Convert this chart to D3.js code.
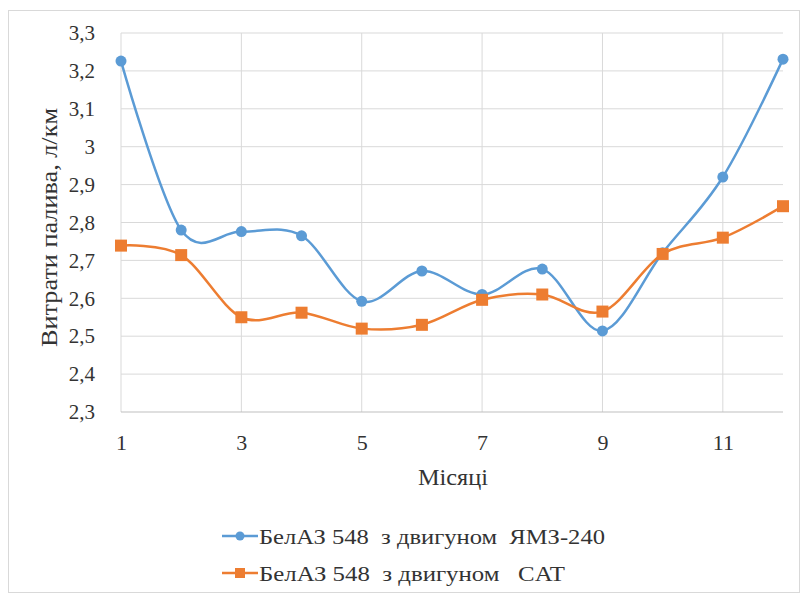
<!DOCTYPE html>
<html><head><meta charset="utf-8">
<script src="https://cdn.jsdelivr.net/npm/d3@7"></script>
<style>body{margin:0;background:#fff}svg{display:block}</style>
</head><body><svg id="c" width="803" height="596" style="font-family:'Liberation Serif','Tinos','DejaVu Serif',serif"></svg>
<script>
const months = [1,2,3,4,5,6,7,8,9,10,11,12];
const yamzValues = [3.226,2.78,2.776,2.765,2.592,2.672,2.61,2.677,2.514,2.72,2.92,3.231];
const catValues = [2.739,2.714,2.55,2.562,2.52,2.53,2.596,2.61,2.565,2.717,2.76,2.843];
const xTicks = [1,3,5,7,9,11];
const yTicks = [2.3,2.4,2.5,2.6,2.7,2.8,2.9,3.0,3.1,3.2,3.3];
const seriesNames = ["БелАЗ 548  з двигуном  ЯМЗ-240","БелАЗ 548  з двигуном   CAT"];
const colors = ["#5B9BD5","#ED7D31"];
const FONT = "'Liberation Serif','Tinos','DejaVu Serif',serif";
const TXT = "#333333";

const svg = d3.select("#c");
svg.append("rect").attr("x",8.5).attr("y",10.5).attr("width",791).attr("height",582).attr("fill","#fff").attr("stroke","#d9d9d9");

const x = d3.scaleLinear().domain([1,12]).range([121,783]);
const y = d3.scaleLinear().domain([2.3,3.3]).range([412,33]);
const fmt = d => d3.format(".1f")(d).replace(".",",").replace(",0","");

svg.append("g").selectAll("line").data(yTicks.slice(1)).join("line")
  .attr("x1",x(1)).attr("x2",x(12)).attr("y1",d=>y(d)).attr("y2",d=>y(d)).attr("stroke","#d9d9d9");
svg.append("g").selectAll("line").data(xTicks).join("line")
  .attr("x1",d=>x(d)).attr("x2",d=>x(d)).attr("y1",y(2.3)).attr("y2",y(3.3)).attr("stroke","#d9d9d9");
svg.append("line").attr("x1",x(1)).attr("x2",x(12)).attr("y1",y(2.3)).attr("y2",y(2.3)).attr("stroke","#bfbfbf");

function styleText(sel, size){
  sel.style("font-family",FONT).attr("font-size",size).attr("fill",TXT);
  return sel;
}
const yAxis = d3.axisLeft(y).tickValues(yTicks).tickFormat(fmt).tickSize(0).tickPadding(26);
const gy = svg.append("g").attr("transform",`translate(${x(1)},0)`).call(yAxis);
gy.select(".domain").remove();
styleText(gy.selectAll("text"),21);

const xAxis = d3.axisBottom(x).tickValues(xTicks).tickFormat(d=>d).tickSize(0).tickPadding(22);
const gx = svg.append("g").attr("transform",`translate(0,${y(2.3)})`).call(xAxis);
gx.select(".domain").remove();
styleText(gx.selectAll("text"),22);

styleText(svg.append("text").attr("x",418).attr("y",485).text("Місяці"),23)
  .attr("textLength",70).attr("lengthAdjust","spacingAndGlyphs");
styleText(svg.append("text").attr("transform","translate(57,347) rotate(-90)").text("Витрати палива, л/км"),23)
  .attr("textLength",239).attr("lengthAdjust","spacingAndGlyphs");

const line = d3.line().x((d,i)=>x(months[i])).y(d=>y(d)).curve(d3.curveCardinal.tension(0));
[yamzValues,catValues].forEach((vals,s)=>{
  svg.append("path").attr("d",line(vals)).attr("fill","none").attr("stroke",colors[s]).attr("stroke-width",2.5);
});
svg.append("g").selectAll("circle").data(yamzValues).join("circle")
  .attr("cx",(d,i)=>x(months[i])).attr("cy",d=>y(d)).attr("r",5.5).attr("fill",colors[0]);
svg.append("g").selectAll("rect").data(catValues).join("rect")
  .attr("x",(d,i)=>x(months[i])-6).attr("y",d=>y(d)-6).attr("width",12).attr("height",12).attr("fill",colors[1]);

const legendLens = [346,306];
const lg = svg.append("g");
[0,1].forEach(s=>{
  const ly = 536 + s*37;
  lg.append("line").attr("x1",222).attr("x2",258).attr("y1",ly).attr("y2",ly).attr("stroke",colors[s]).attr("stroke-width",2.5);
  if(s===0) lg.append("circle").attr("cx",240).attr("cy",ly).attr("r",4.5).attr("fill",colors[0]);
  else lg.append("rect").attr("x",235).attr("y",ly-5).attr("width",10).attr("height",10).attr("fill",colors[1]);
  styleText(lg.append("text").attr("x",259).attr("y",ly+8).attr("xml:space","preserve").style("white-space","pre").text(seriesNames[s]),22)
    .attr("textLength",legendLens[s]).attr("lengthAdjust","spacingAndGlyphs");
});
</script></body></html>
